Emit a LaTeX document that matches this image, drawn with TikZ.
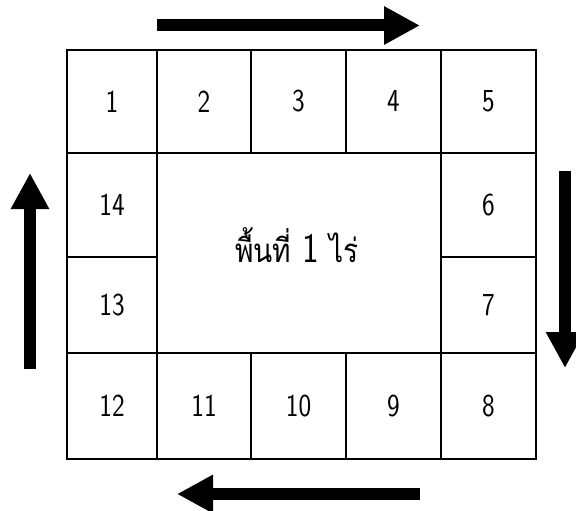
\documentclass[tikz,border=0pt]{standalone}
\usepackage{fontspec}
\newfontfamily\thaifont[Script=Thai, FakeStretch=0.85]{Loma}
\newfontfamily\digitfont[FakeStretch=0.84]{Latin Modern Sans}
\usetikzlibrary{arrows.meta}
\tikzset{
  cell/.style={draw, line width=1.4pt, inner sep=0pt, font=\digitfont\fontsize{32}{36}\selectfont},
  bigarrow/.style={line width=12pt, -{Triangle[width=36pt,length=36pt]}}
}
\begin{document}
\begin{tikzpicture}[x=1pt,y=-1pt]
\useasboundingbox (0,0) rectangle (576,511);
% top row
\node[cell, minimum width=90pt, minimum height=103pt] (c1) at (112,101.5) {1};
\node[cell, minimum width=94pt, minimum height=103pt] (c2) at (204,101.5) {2};
\node[cell, minimum width=95pt, minimum height=103pt] (c3) at (298.5,101.5) {3};
\node[cell, minimum width=95pt, minimum height=103pt] (c4) at (393.5,101.5) {4};
\node[cell, minimum width=95pt, minimum height=103pt] (c5) at (488.5,101.5) {5};
% sides
\node[cell, minimum width=90pt, minimum height=104pt] (c14) at (112,205) {14};
\node[cell, minimum width=90pt, minimum height=96pt] (c13) at (112,305) {13};
\node[cell, minimum width=95pt, minimum height=104pt] (c6) at (488.5,205) {6};
\node[cell, minimum width=95pt, minimum height=96pt] (c7) at (488.5,305) {7};
% centre
\node[cell, minimum width=284pt, minimum height=200pt] (m) at (299,253) {};
\node[font=\digitfont\fontsize{42}{46}\selectfont, inner sep=0pt, anchor=base] (mt) at (297,262) {{\thaifont\fontsize{33}{40}\selectfont พื้นที่} 1 {\thaifont\fontsize{33}{40}\selectfont ไร่}};
% bottom row
\node[cell, minimum width=90pt, minimum height=106pt] (c12) at (112,406) {12};
\node[cell, minimum width=94pt, minimum height=106pt] (c11) at (204,406) {11};
\node[cell, minimum width=95pt, minimum height=106pt] (c10) at (298.5,406) {10};
\node[cell, minimum width=95pt, minimum height=106pt] (c9) at (393.5,406) {9};
\node[cell, minimum width=95pt, minimum height=106pt] (c8) at (488.5,406) {8};
% arrows
\coordinate (ta) at (157,25.5);
\coordinate (tb) at (420,25.5);
\coordinate (ra) at (565,171);
\coordinate (rb) at (565,368);
\coordinate (ba) at (420,494);
\coordinate (bb) at (177,494);
\coordinate (la) at (30,369);
\coordinate (lb) at (30,173);
\draw[bigarrow] (ta) -- (tb);
\draw[bigarrow] (ra) -- (rb);
\draw[bigarrow] (ba) -- (bb);
\draw[bigarrow] (la) -- (lb);
\end{tikzpicture}
\end{document}
